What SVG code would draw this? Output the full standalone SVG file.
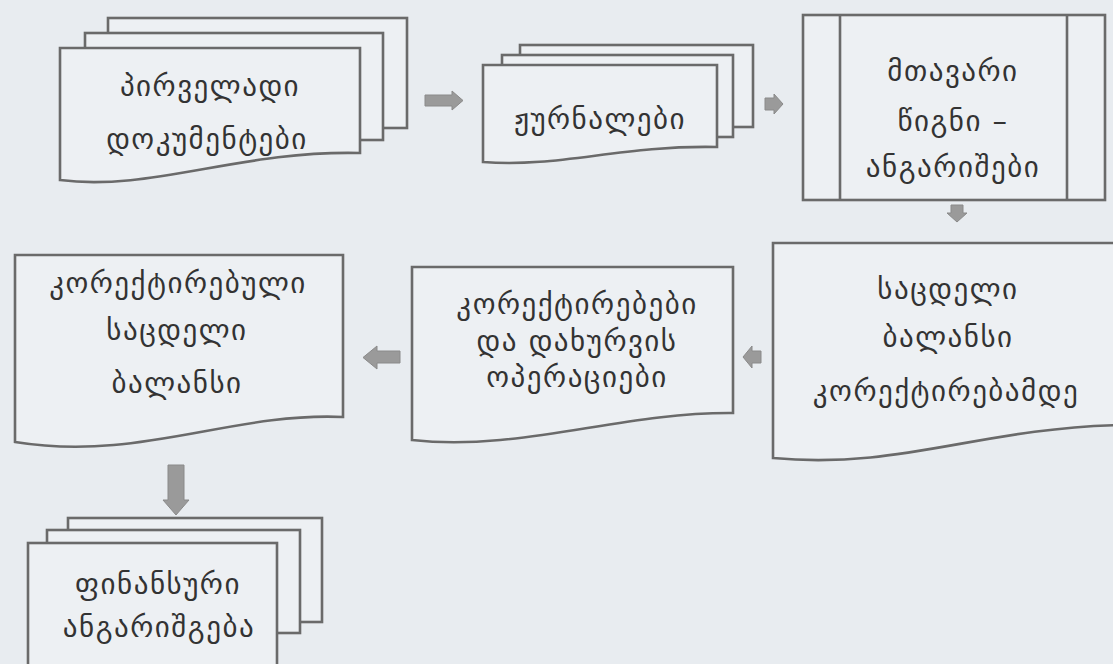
<svg xmlns="http://www.w3.org/2000/svg" width="1113" height="664" viewBox="0 0 1113 664">
<style>
.bg{fill:#e8ecf0}
.box{fill:#edf0f3;stroke:#6a6a6a;stroke-width:2.6;stroke-linejoin:miter}
.arr{fill:#9a9a9a;stroke:#8a8a8a;stroke-width:1}
.t{font-family:"DejaVu Sans","Noto Sans",sans-serif;font-size:29px;letter-spacing:1.5px;fill:#333;text-anchor:middle}
</style>
<rect class="bg" x="0" y="0" width="1113" height="664"/>

<g id="connectors">
<polygon class="arr" points="425,95 452,95 452,91 463,100.5 452,110 452,106 425,106"/>
<polygon class="arr" points="765,98 774,98 774,94 783,104 774,114 774,110 765,110"/>
<polygon class="arr" points="951,205 963,205 963,213 967,213 957,222 947,213 951,213"/>
<polygon class="arr" points="761,351 752,351 752,346 743,357 752,368 752,363 761,363"/>
<polygon class="arr" points="400,351 377,351 377,346 363,357.5 377,369 377,363 400,363"/>
<polygon class="arr" points="168,465 184,465 184,500 189,500 176,515 163,500 168,500"/>
</g>

<g id="node-primary-documents">
<rect class="box" x="108" y="18" width="299" height="110"/>
<rect class="box" x="85" y="33" width="298" height="107"/>
<path class="box" d="M60,48 H360 V153 C240,150 150,192 60,180 Z"/>
<text class="t" x="210" y="96">პირველადი</text>
<text class="t" x="207" y="149">დოკუმენტები</text>
</g>

<g id="node-journals">
<rect class="box" x="520" y="45" width="233" height="82"/>
<rect class="box" x="502" y="55" width="231" height="82"/>
<path class="box" d="M483,65 H717 V147 C620,145 560,168 483,162 Z"/>
<text class="t" x="600" y="129">ჟურნალები</text>
</g>

<g id="node-general-ledger">
<rect class="box" x="803" y="15" width="302" height="185"/>
<line class="box" x1="840" y1="15" x2="840" y2="200"/>
<line class="box" x1="1067" y1="15" x2="1067" y2="200"/>
<text class="t" x="953" y="81">მთავარი</text>
<text class="t" x="953" y="131">წიგნი –</text>
<text class="t" x="953" y="177">ანგარიშები</text>
</g>

<g id="node-trial-balance">
<path class="box" d="M773,243 H1120 V425 C980,428 900,470 773,458 Z"/>
<text class="t" x="948" y="299">საცდელი</text>
<text class="t" x="948" y="347">ბალანსი</text>
<text class="t" x="946" y="401">კორექტირებამდე</text>
</g>

<g id="node-adjustments">
<path class="box" d="M412,267 H733 V413 C620,412 520,452 412,440 Z"/>
<text class="t" x="577" y="314">კორექტირებები</text>
<text class="t" x="577" y="351">და დახურვის</text>
<text class="t" x="577" y="387">ოპერაციები</text>
</g>

<g id="node-adjusted-trial-balance">
<path class="box" d="M15,255 H343 V417 C230,412 140,462 15,442 Z"/>
<text class="t" x="178" y="293">კორექტირებული</text>
<text class="t" x="177" y="340">საცდელი</text>
<text class="t" x="177" y="393">ბალანსი</text>
</g>

<g id="node-financial-statements">
<rect class="box" x="68" y="518" width="254" height="104"/>
<rect class="box" x="47" y="530" width="253" height="103"/>
<rect class="box" x="28" y="543" width="249" height="140"/>
<text class="t" x="158" y="594">ფინანსური</text>
<text class="t" x="159" y="637">ანგარიშგება</text>
</g>
</svg>
